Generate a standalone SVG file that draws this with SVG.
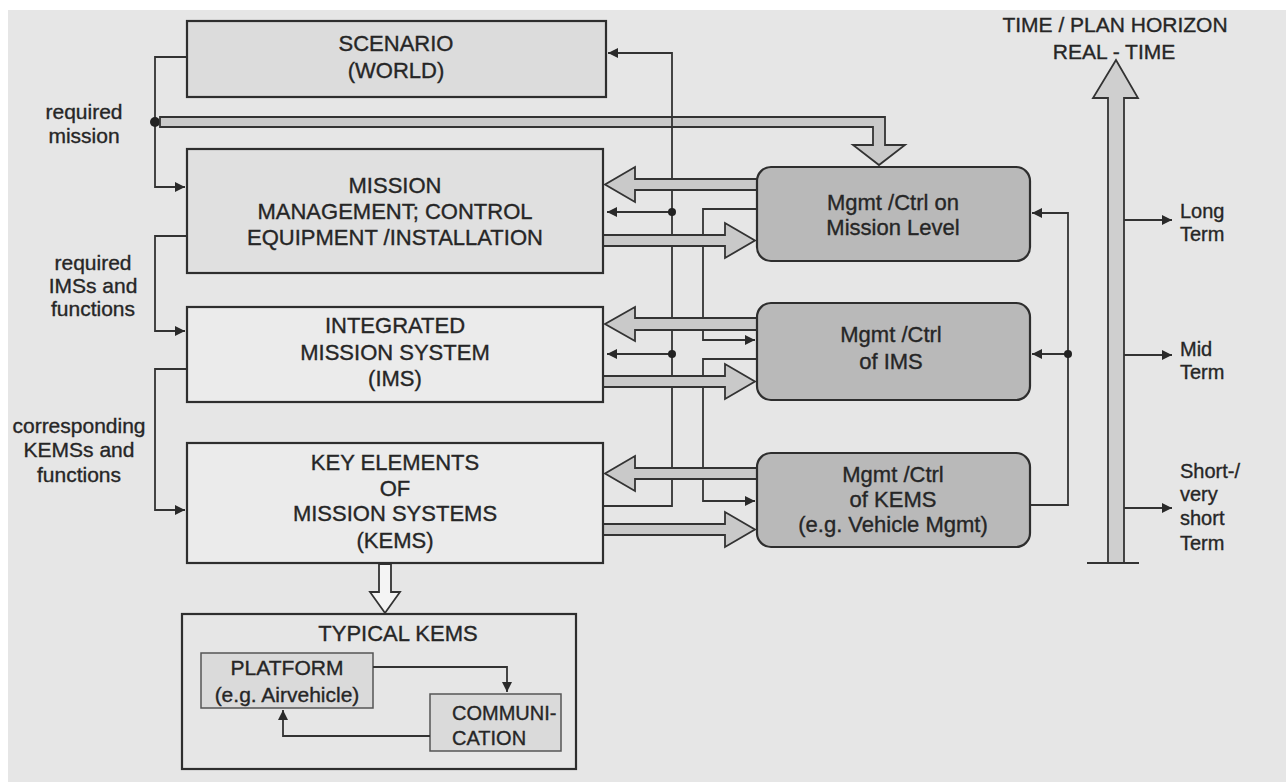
<svg xmlns="http://www.w3.org/2000/svg" width="1286" height="782" viewBox="0 0 1286 782">
<style>
text{font-family:"Liberation Sans",Arial,sans-serif;fill:#262626;stroke:#262626;stroke-width:0.35}
.bt{font-size:22px;text-anchor:middle}
.lb{font-size:21px;text-anchor:middle}
.mt{font-size:22px;text-anchor:middle}
.rt{font-size:20px}
.box{stroke:#2e2e2e;stroke-width:2.2}
.ln{fill:none;stroke:#333;stroke-width:1.8}
.big{fill:#c9c9c9;stroke:#333;stroke-width:1.8;stroke-linejoin:miter}
</style>
<defs>
<marker id="ah2" viewBox="0 0 10 10" refX="10" refY="5" markerWidth="10" markerHeight="10" markerUnits="userSpaceOnUse" orient="auto">
<path d="M0,0 L10,5 L0,10 z" fill="#2a2a2a"/>
</marker>
</defs>
<rect width="1286" height="782" fill="#ffffff"/>
<rect x="8" y="10" width="1278" height="772" fill="#e6e6e6"/>

<g id="connectors">
<path class="ln" d="M187,57 H155 V187 H185" marker-end="url(#ah2)"/>
<path class="ln" d="M187,236 H155 V331 H185" marker-end="url(#ah2)"/>
<path class="ln" d="M187,369 H155 V510 H185" marker-end="url(#ah2)"/>
<circle cx="155" cy="122" r="5" fill="#222"/>
<polygon class="big" points="160,117 885,117 885,145 905,145 879,165 853,145 873,145 873,127 160,127"/>
<path class="ln" d="M603,506 H672 V53 H608" marker-end="url(#ah2)"/>
<path class="ln" d="M672,212 H607" marker-end="url(#ah2)"/>
<circle cx="672" cy="212" r="4" fill="#222"/>
<path class="ln" d="M672,354 H607" marker-end="url(#ah2)"/>
<circle cx="672" cy="354" r="4" fill="#222"/>
<path class="ln" d="M757,209 H703 V340 H755" marker-end="url(#ah2)"/>
<path class="ln" d="M757,359 H703 V501 H755" marker-end="url(#ah2)"/>
<path class="ln" d="M1030,505 H1068 V213 H1032" marker-end="url(#ah2)"/>
<path class="ln" d="M1068,354 H1032" marker-end="url(#ah2)"/>
<circle cx="1068" cy="354" r="4" fill="#222"/>
<polygon class="big" points="757,179 635,179 635,167 605,184.5 635,202 635,190 757,190"/>
<polygon class="big" points="603,235 725,235 725,223 755,240.5 725,258 725,246 603,246"/>
<polygon class="big" points="757,318 635,318 635,307 605,324 635,341 635,330 757,330"/>
<polygon class="big" points="603,376 725,376 725,364 755,381.5 725,399 725,387 603,387"/>
<polygon class="big" points="757,468 635,468 635,456 605,473.5 635,491 635,479 757,479"/>
<polygon class="big" points="603,524 725,524 725,512 755,529.5 725,547 725,535 603,535"/>
<polygon points="379,564 391,564 391,592 400,592 385,613 370,592 379,592" fill="#f4f4f4" stroke="#333" stroke-width="1.8"/>
</g>

<g id="time">
<polygon points="1108,563 1108,98 1093,98 1116,60 1138,98 1124,98 1124,563" fill="#cfcfcf" stroke="#333" stroke-width="1.8"/>
<line x1="1087" y1="563" x2="1139" y2="563" stroke="#333" stroke-width="2"/>
<path class="ln" d="M1124,220 H1172" marker-end="url(#ah2)"/>
<path class="ln" d="M1124,355 H1172" marker-end="url(#ah2)"/>
<path class="ln" d="M1124,508 H1172" marker-end="url(#ah2)"/>
<text class="lb" x="1115" y="32">TIME / PLAN  HORIZON</text>
<text class="lb" x="1114" y="59">REAL - TIME</text>
<text class="rt" x="1180" y="218">Long</text>
<text class="rt" x="1180" y="241">Term</text>
<text class="rt" x="1180" y="356">Mid</text>
<text class="rt" x="1180" y="379">Term</text>
<text class="rt" x="1180" y="478">Short-/</text>
<text class="rt" x="1180" y="501">very</text>
<text class="rt" x="1180" y="525">short</text>
<text class="rt" x="1180" y="550">Term</text>
</g>

<g id="labels">
<text class="lb" x="84" y="119">required</text>
<text class="lb" x="84" y="143">mission</text>
<text class="lb" x="93" y="270">required</text>
<text class="lb" x="93" y="293">IMSs and</text>
<text class="lb" x="93" y="316">functions</text>
<text class="lb" x="79" y="433">corresponding</text>
<text class="lb" x="79" y="457">KEMSs and</text>
<text class="lb" x="79" y="482">functions</text>
</g>

<g id="scenario">
<rect class="box" x="187" y="21" width="419" height="76" fill="#dcdcdc"/>
<text class="bt" x="396" y="51">SCENARIO</text>
<text class="bt" x="396" y="78">(WORLD)</text>
</g>
<g id="mission">
<rect class="box" x="187" y="149" width="416" height="124" fill="#e0e0e0"/>
<text class="bt" x="395" y="193">MISSION</text>
<text class="bt" x="395" y="219">MANAGEMENT; CONTROL</text>
<text class="bt" x="395" y="245">EQUIPMENT /INSTALLATION</text>
</g>
<g id="ims">
<rect class="box" x="187" y="307" width="416" height="95" fill="#ebebeb"/>
<text class="bt" x="395" y="333">INTEGRATED</text>
<text class="bt" x="395" y="360">MISSION  SYSTEM</text>
<text class="bt" x="395" y="386">(IMS)</text>
</g>
<g id="kems">
<rect class="box" x="187" y="443" width="416" height="120" fill="#ebebeb"/>
<text class="bt" x="395" y="470">KEY  ELEMENTS</text>
<text class="bt" x="395" y="496">OF</text>
<text class="bt" x="395" y="521">MISSION  SYSTEMS</text>
<text class="bt" x="395" y="548">(KEMS)</text>
</g>
<g id="mgmt-mission">
<rect class="box" x="757" y="167" width="273" height="94" rx="14" fill="#b9b9b9"/>
<text class="mt" x="893" y="210">Mgmt /Ctrl on</text>
<text class="mt" x="893" y="235">Mission Level</text>
</g>
<g id="mgmt-ims">
<rect class="box" x="757" y="303" width="273" height="97" rx="14" fill="#b9b9b9"/>
<text class="mt" x="891" y="342">Mgmt /Ctrl</text>
<text class="mt" x="891" y="369">of IMS</text>
</g>
<g id="mgmt-kems">
<rect class="box" x="757" y="453" width="273" height="94" rx="14" fill="#b9b9b9"/>
<text class="mt" x="893" y="482">Mgmt /Ctrl</text>
<text class="mt" x="893" y="507">of KEMS</text>
<text class="mt" x="893" y="532">(e.g. Vehicle Mgmt)</text>
</g>
<g id="typical">
<rect class="box" x="182" y="614" width="394" height="155" fill="#e6e6e6"/>
<text class="bt" x="398" y="641">TYPICAL  KEMS</text>
</g>
<g id="platform">
<rect x="201" y="653" width="172" height="55" fill="#dadada" stroke="#555" stroke-width="1.5"/>
<text class="lb" x="287" y="675">PLATFORM</text>
<text class="lb" x="287" y="702">(e.g. Airvehicle)</text>
</g>
<g id="communication">
<rect x="430" y="694" width="131" height="57" fill="#dadada" stroke="#555" stroke-width="1.5"/>
<text class="rt" x="452" y="720">COMMUNI-</text>
<text class="rt" x="452" y="745">CATION</text>
</g>
<g id="typical-connectors">
<path class="ln" d="M373,667 H507 V692" marker-end="url(#ah2)"/>
<path class="ln" d="M430,736 H283 V710" marker-end="url(#ah2)"/>
</g>
</svg>
